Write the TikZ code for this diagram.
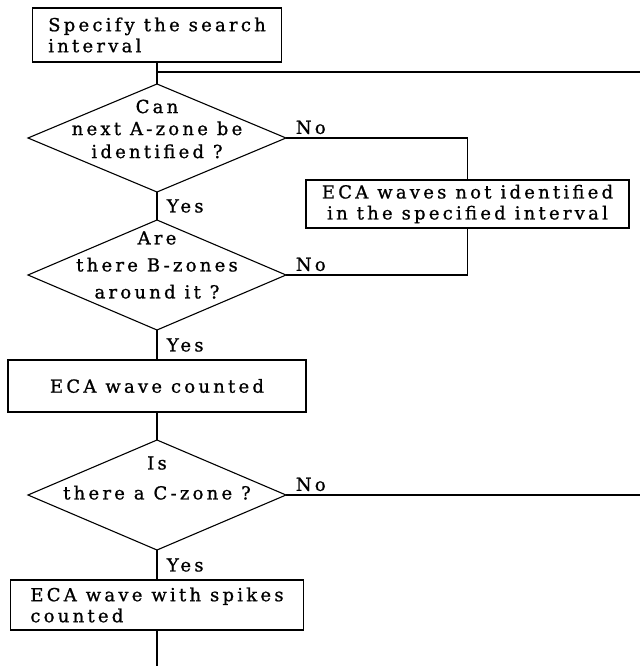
\documentclass[tikz,border=0pt]{standalone}
\usepackage{fontspec}
\setmainfont{DejaVu Serif}[LetterSpace=18, FakeBold=1]
\usetikzlibrary{positioning,shapes.geometric}

\begin{document}
\begin{tikzpicture}[x=1pt, y=1pt, node distance=22pt,
  every node/.style={font=\fontsize{18}{21}\selectfont},
  box/.style={draw, line width=1.1pt, inner sep=0pt, outer sep=0pt},
  decision/.style={draw, diamond, line width=1.1pt, minimum width=258pt, minimum height=110pt, inner sep=0pt, outer sep=0pt},
  dtext/.style={align=center},
  link/.style={line width=1.1pt},
  yes/.style={right, xshift=6pt},
  no/.style={above right, xshift=6pt, pos=0}]
\useasboundingbox (0,0) rectangle (640,-666);
\coordinate (rim) at (640,0);
\coordinate (loopin) at (640,-72);
\coordinate (foot) at (0,-666);
% main column
\node[box, minimum width=249pt, minimum height=54pt, align=left] (spec) at (157,-35) {Specify the search\\interval};
\node[decision, below=22pt of spec, minimum height=108pt, label={[dtext, yshift=9pt]center:Can\\[1pt]next A-zone be\\[2pt]identified ?}] (canA) {};
\node[decision, below=28pt of canA, label={[dtext, yshift=10pt]center:Are\\[6pt]there B-zones\\[6pt]around it ?}] (areB) {};
\node[box, below=30pt of areB, minimum width=298pt, minimum height=52pt, align=left] (counted) {ECA wave counted};
\node[decision, below=28pt of counted, label={[dtext, yshift=17pt]center:Is\\[9pt]there a C-zone ?}] (isC) {};
\node[box, below=30pt of isC, minimum width=293pt, minimum height=50pt, align=left] (spikes) {ECA wave with spikes\\counted};
% side box
\node[box, below right=42pt and 20pt of canA.east, minimum width=323pt, minimum height=48pt, align=center] (notid) {ECA waves not identified\\in the specified interval};
\draw[link] (spec) -- (canA);
\draw[link] (canA) -- node[yes] {Yes} (areB);
\draw[link] (areB) -- node[yes] {Yes} (counted);
\draw[link] (counted) -- (isC);
\draw[link] (isC) -- node[yes] {Yes} (spikes);
\draw[link] (canA.east) -| node[no] {No} (notid.north);
\draw[link] (areB.east) -| node[no] {No} (notid.south);
\draw[link] (isC.east) -- node[no] {No} (isC.east -| rim);
\draw[link] (spec.south |- loopin) -- (loopin);
\draw[link] (spikes) -- (spikes.south |- foot);
\end{tikzpicture}
\end{document}
